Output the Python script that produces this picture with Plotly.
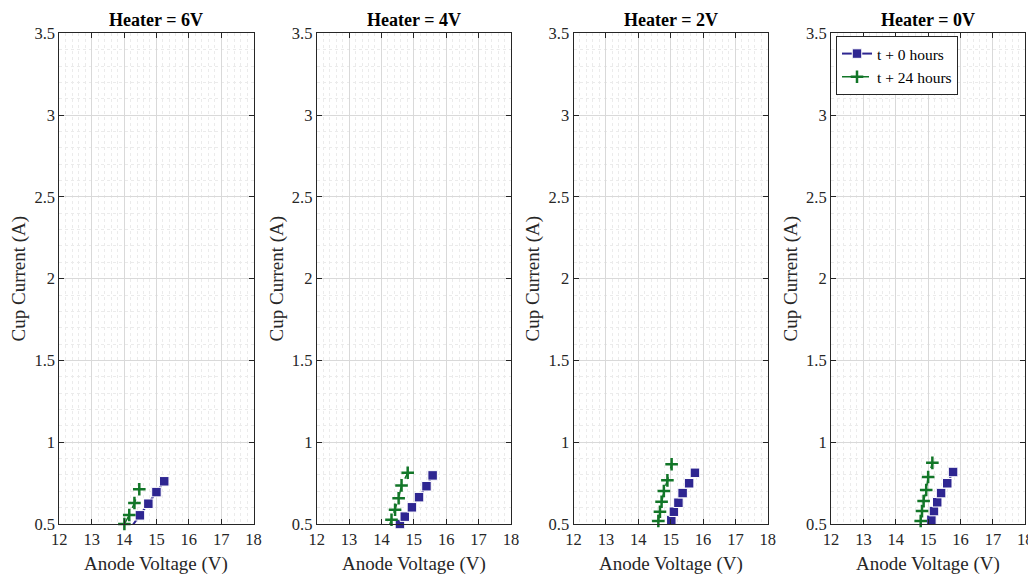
import plotly.graph_objs as go
from plotly.subplots import make_subplots

# panel titles
heaters = ['Heater = 6V', 'Heater = 4V', 'Heater = 2V', 'Heater = 0V']

# t + 0 hours, anode voltage (V) / cup current (A)
v0_6v = [14.22, 14.49, 14.75, 15.00, 15.24]
i0_6v = [0.48, 0.553, 0.624, 0.695, 0.761]
v0_4v = [14.57, 14.72, 14.94, 15.16, 15.39, 15.58]
i0_4v = [0.50, 0.545, 0.602, 0.664, 0.731, 0.797]
v0_2v = [15.02, 15.10, 15.24, 15.37, 15.57, 15.75]
i0_2v = [0.524, 0.575, 0.630, 0.689, 0.749, 0.813]
v0_0v = [15.10, 15.18, 15.28, 15.40, 15.59, 15.77]
i0_0v = [0.526, 0.579, 0.633, 0.689, 0.749, 0.818]

# t + 24 hours
v24_6v = [14.01, 14.16, 14.32, 14.47]
i24_6v = [0.50, 0.555, 0.628, 0.712]
v24_4v = [14.20, 14.31, 14.42, 14.53, 14.62, 14.81]
i24_4v = [0.465, 0.526, 0.587, 0.657, 0.736, 0.813]
v24_2v = [14.62, 14.67, 14.72, 14.79, 14.90, 15.03]
i24_2v = [0.518, 0.575, 0.636, 0.702, 0.767, 0.865]
v24_0v = [14.77, 14.81, 14.86, 14.94, 15.00, 15.13]
i24_0v = [0.518, 0.579, 0.640, 0.708, 0.787, 0.874]

x_range = [12, 18]
y_range = [0.5, 3.5]

series0 = [(v0_6v, i0_6v), (v0_4v, i0_4v), (v0_2v, i0_2v), (v0_0v, i0_0v)]
series24 = [(v24_6v, i24_6v), (v24_4v, i24_4v), (v24_2v, i24_2v), (v24_0v, i24_0v)]

blue = 'rgb(46,38,145)'
green = 'rgb(18,118,40)'
serif = 'Liberation Serif'

# page body has an 8px margin, so the figure starts 8px in from the window corner
W, H = 1028, 566
fig = make_subplots(rows=1, cols=4)

# panel positions in figure pixels
lefts = [51.3, 308.7, 565.5, 823.0]
pw = 194.3
top_px, bot_px = 25.3, 516.0


def sizes(ys, s):
    # hide markers that fall below the axis (MATLAB clips them)
    return [s if y >= y_range[0] else 0 for y in ys]


for k in range(4):
    col = k + 1
    vx, iy = series0[k]
    fig.add_trace(go.Scatter(
        x=vx, y=iy, mode='lines+markers', name='t + 0 hours',
        line=dict(color=blue, width=2),
        marker=dict(symbol='square', size=sizes(iy, 9.5), color=blue, opacity=1),
        cliponaxis=False, showlegend=(k == 3)), row=1, col=col)
    vx, iy = series24[k]
    fig.add_trace(go.Scatter(
        x=vx, y=iy, mode='lines+markers', name='t + 24 hours',
        line=dict(color=green, width=1.5, dash='dash'),
        marker=dict(symbol='cross-thin', size=sizes(iy, 9), opacity=1,
                    line=dict(color=green, width=2.5)),
        cliponaxis=False, showlegend=(k == 3)), row=1, col=col)

    xa = 'xaxis' if k == 0 else 'xaxis%d' % col
    ya = 'yaxis' if k == 0 else 'yaxis%d' % col
    common = dict(showline=True, linecolor='#262626', linewidth=1, mirror='ticks',
                  ticks='inside', ticklen=5, tickcolor='#262626', automargin=False,
                  ticklabeloverflow='allow',
                  showgrid=True, gridcolor='#d9d9d9', gridwidth=1, zeroline=False,
                  tickfont=dict(family=serif, size=16.5, color='#262626'))
    fig.layout[xa].update(
        range=x_range, dtick=1, domain=[lefts[k] / W, (lefts[k] + pw) / W],
        minor=dict(dtick=0.2, showgrid=True, gridcolor='#ebebeb', griddash='dot', ticklen=0),
        **common)
    fig.layout[ya].update(
        range=y_range, dtick=0.5, domain=[(H - bot_px) / H, (H - top_px) / H],
        title=dict(text='Cup Current (A)', standoff=3,
                   font=dict(family=serif, size=19, color='#262626')),
        minor=dict(dtick=0.1, showgrid=True, gridcolor='#ebebeb', griddash='dot', ticklen=0),
        **common)
    # panel title and x-axis label
    fig.add_annotation(
        text='<b>%s</b>' % heaters[k], xref='paper', yref='paper',
        x=(lefts[k] + pw / 2) / W, y=(H - top_px) / H, xanchor='center', yanchor='bottom',
        showarrow=False, yshift=1, font=dict(family=serif, size=18, color='black'))
    fig.add_annotation(
        text='Anode Voltage (V)', xref='paper', yref='paper',
        x=(lefts[k] + pw / 2) / W, y=(H - bot_px) / H, xanchor='center', yanchor='top',
        showarrow=False, yshift=-27, font=dict(family=serif, size=19, color='#262626'))

fig.update_layout(
    width=W, height=H, margin=dict(l=0, r=0, t=0, b=0),
    paper_bgcolor='white', plot_bgcolor='white',
    font=dict(family=serif, color='#262626'),
    legend=dict(x=828 / W, y=(H - 28) / H, xanchor='left', yanchor='top',
                bgcolor='white', bordercolor='#262626', borderwidth=1,
                font=dict(family=serif, size=15.5, color='black'),
                tracegroupgap=0, itemwidth=30),
)

fig.write_html('out.html')
